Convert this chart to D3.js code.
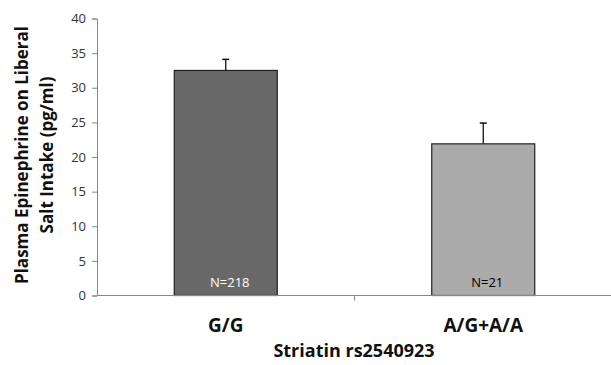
<!DOCTYPE html>
<html><head><meta charset="utf-8">
<script src="https://cdn.jsdelivr.net/npm/d3@7"></script>
<style>body{margin:0;background:#fff}svg{display:block}</style>
</head><body>
<script>
const categories = ["G/G", "A/G+A/A"];
const means = [32.5, 21.9];
const errors = [1.6, 3.0];
const nLabels = ["N=218", "N=21"];
const yTicks = [0, 5, 10, 15, 20, 25, 30, 35, 40];
const fills = ["#686868", "#ababab"];
const labelColors = ["#ffffff", "#000000"];

const W = 611, H = 365;
const svg = d3.select("body").append("svg").attr("width", W).attr("height", H);
const font = "'Open Sans', sans-serif";

const x = d3.scaleBand().domain(categories).range([97, 612]).paddingInner(0.6).paddingOuter(0.3);
const y = d3.scaleLinear().domain([0, 40]).range([295.5, 18.5]);

// y axis
const ya = svg.append("g").attr("transform", "translate(97,0)")
  .call(d3.axisLeft(y).tickValues(yTicks).tickSize(5).tickPadding(6));
ya.select(".domain").attr("stroke", "#888");
ya.selectAll(".tick line").attr("stroke", "#888");
ya.selectAll("text").attr("font-family", font).attr("font-size", 13).attr("fill", "#333");

// bars
svg.selectAll("rect.bar").data(categories).enter().append("rect")
  .attr("x", d => x(d)).attr("width", x.bandwidth())
  .attr("y", (d, i) => y(means[i])).attr("height", (d, i) => y(0) - y(means[i]))
  .attr("fill", (d, i) => fills[i]).attr("stroke", "#222").attr("stroke-width", 1.2);

// error bars
categories.forEach((c, i) => {
  const cx = x(c) + x.bandwidth() / 2;
  svg.append("line").attr("x1", cx).attr("x2", cx).attr("y1", y(means[i])).attr("y2", y(means[i] + errors[i]))
    .attr("stroke", "#111").attr("stroke-width", 1.3);
  svg.append("line").attr("x1", cx - 3.5).attr("x2", cx + 3.5).attr("y1", y(means[i] + errors[i])).attr("y2", y(means[i] + errors[i]))
    .attr("stroke", "#111").attr("stroke-width", 1.5);
  svg.append("text").attr("x", cx + 4).attr("y", y(0) - 9).attr("text-anchor", "middle")
    .attr("font-family", font).attr("font-size", 13).attr("fill", labelColors[i]).text(nLabels[i]);
});

// x axis
const xa = svg.append("g").attr("transform", `translate(0,${y(0)})`);
xa.append("line").attr("x1", 97).attr("x2", 611).attr("stroke", "#888");
const xs = x.step();
xa.append("line").attr("x1", 97 + xs).attr("x2", 97 + xs).attr("y1", 0).attr("y2", 5).attr("stroke", "#888");

svg.selectAll("text.cat").data(categories).enter().append("text")
  .attr("x", d => x(d) + x.bandwidth() / 2).attr("y", 332).attr("text-anchor", "middle")
  .attr("font-family", font).attr("font-weight", "bold").attr("font-size", 19).attr("fill", "#111").text(d => d);

svg.append("text").attr("x", 354).attr("y", 357).attr("text-anchor", "middle")
  .attr("font-family", font).attr("font-weight", "bold").attr("font-size", 18).attr("fill", "#111").text("Striatin rs2540923");

const yt = svg.append("text").attr("transform", "translate(0,155) rotate(-90)").attr("text-anchor", "middle")
  .attr("font-family", font).attr("font-weight", "bold").attr("font-size", 17).attr("fill", "#111");
yt.append("tspan").attr("x", 0).attr("y", 28).text("Plasma Epinephrine on Liberal");
yt.append("tspan").attr("x", 0).attr("y", 53).text("Salt Intake (pg/ml)");
</script>
</body></html>
